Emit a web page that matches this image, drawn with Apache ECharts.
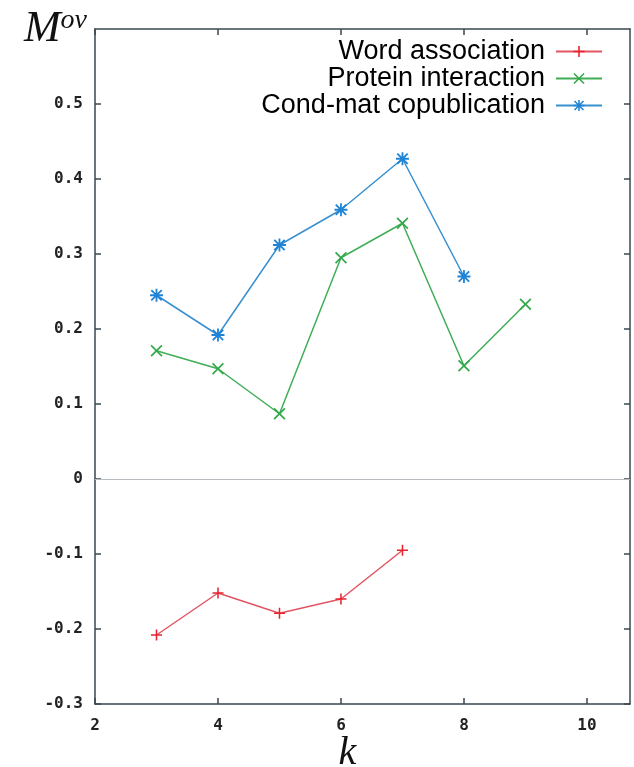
<!DOCTYPE html>
<html>
<head>
<meta charset="utf-8">
<script src="https://cdn.jsdelivr.net/npm/echarts@6/dist/echarts.min.js"></script>
<style>
  html, body { margin: 0; padding: 0; background: #fff; }
  #ovChart { width: 634px; height: 767px; }
</style>
</head>
<body>
<div id="ovChart"></div>
<script>
// k values and M^ov per network
var kWord = [3, 4, 5, 6, 7];
var wordAssoc = [-0.208, -0.152, -0.179, -0.160, -0.095];

var kProtein = [3, 4, 5, 6, 7, 8, 9];
var proteinInter = [0.171, 0.147, 0.087, 0.295, 0.341, 0.151, 0.233];

var kCondMat = [3, 4, 5, 6, 7, 8];
var condMat = [0.245, 0.192, 0.312, 0.359, 0.427, 0.270];

var xTicks = [2, 4, 6, 8, 10];
var yTicks = [-0.3, -0.2, -0.1, 0, 0.1, 0.2, 0.3, 0.4, 0.5];

// gnuplot style point markers (thin filled bars)
var plusPath = 'path://M4.3,0H5.7V10H4.3Z M0,4.3H10V5.7H0Z';
var crossPath = 'path://M0,1L1,0L10,9L9,10Z M9,0L10,1L1,10L0,9Z';
var starPath = 'path://M4.3,0H5.7V10H4.3Z M0,4.3H10V5.7H0Z M0.5,1.5L1.5,0.5L9.5,8.5L8.5,9.5Z M8.5,0.5L9.5,1.5L1.5,9.5L0.5,8.5Z';

function pairs(xs, ys) {
  return xs.map(function (x, i) { return [x, ys[i]]; });
}

var tickFont = {
  fontFamily: 'DejaVu Sans Mono',
  fontWeight: 'bold',
  fontSize: 16,
  color: '#222'
};
var axisLine = { show: true, onZero: false, lineStyle: { color: '#3a4750', width: 1.5 } };
var tickLine = { color: '#3a4750', width: 1.5 };

function initChart() {
  var chart = echarts.init(document.getElementById('ovChart'));
  var options = {
    animation: false,
    backgroundColor: '#fff',
    grid: { left: 95, right: 4, top: 29, bottom: 63, outerBoundsMode: 'none' },
    legend: {
      orient: 'vertical',
      align: 'right',
      right: 26,
      top: 33,
      itemWidth: 46,
      itemHeight: 14,
      itemGap: 0,
      textStyle: { fontFamily: 'Liberation Sans', fontSize: 27, color: '#000', padding: [0, 6, 0, 0] },
      data: ['Word association', 'Protein interaction', 'Cond-mat copublication']
    },
    xAxis: [
      {
        type: 'value',
        min: 2,
        max: 10.7,
        interval: 2,
        position: 'bottom',
        name: 'k',
        nameLocation: 'middle',
        nameMoveOverlap: false,
        nameGap: 29,
        nameTextStyle: { fontFamily: 'Liberation Serif', fontStyle: 'italic', fontSize: 40, color: '#111', padding: [0, 30, 0, 0] },
        axisLine: axisLine,
        axisTick: { show: true, inside: true, length: 6, lineStyle: tickLine, customValues: xTicks },
        axisLabel: Object.assign({ margin: 14, customValues: xTicks }, tickFont),
        splitLine: { show: false }
      },
      {
        type: 'value',
        min: 2,
        max: 10.7,
        interval: 2,
        position: 'top',
        axisLine: axisLine,
        axisTick: { show: true, inside: true, length: 6, lineStyle: tickLine, customValues: xTicks },
        axisLabel: { show: false },
        splitLine: { show: false }
      }
    ],
    yAxis: [
      {
        type: 'value',
        min: -0.3,
        max: 0.6,
        interval: 0.1,
        position: 'left',
        name: '{m|M}{s|ov}',
        nameLocation: 'end',
        nameGap: 0,
        nameTextStyle: {
          align: 'right',
          verticalAlign: 'middle',
          padding: [0, 8, 0, 0],
          rich: {
            m: { fontFamily: 'Liberation Serif', fontStyle: 'italic', fontSize: 44, color: '#111', verticalAlign: 'bottom' },
            s: { fontFamily: 'Liberation Serif', fontStyle: 'italic', fontSize: 28, color: '#111', verticalAlign: 'bottom', padding: [0, 0, 16, 0] }
          }
        },
        axisLine: axisLine,
        axisTick: { show: true, inside: true, length: 6, lineStyle: tickLine, customValues: yTicks },
        axisLabel: Object.assign({
          margin: 12,
          customValues: yTicks,
          formatter: function (v) {
            if (Math.abs(v) < 1e-9) return '0';
            return v.toFixed(1);
          }
        }, tickFont),
        splitLine: { show: false }
      },
      {
        type: 'value',
        min: -0.3,
        max: 0.6,
        interval: 0.1,
        position: 'right',
        axisLine: axisLine,
        axisTick: { show: true, inside: true, length: 6, lineStyle: tickLine, customValues: yTicks },
        axisLabel: { show: false },
        splitLine: { show: false }
      }
    ],
    series: [
      {
        name: 'Word association',
        type: 'line',
        data: pairs(kWord, wordAssoc),
        symbol: plusPath,
        symbolSize: 11,
        lineStyle: { color: '#e25563', width: 1.5 },
        itemStyle: { color: '#e8232d' },
        markLine: {
          silent: true,
          symbol: 'none',
          label: { show: false },
          lineStyle: { color: '#b8bcc0', width: 1.2, type: 'solid' },
          data: [{ yAxis: 0 }]
        }
      },
      {
        name: 'Protein interaction',
        type: 'line',
        data: pairs(kProtein, proteinInter),
        symbol: crossPath,
        symbolSize: 12,
        lineStyle: { color: '#3fae57', width: 1.5 },
        itemStyle: { color: '#33a84a' }
      },
      {
        name: 'Cond-mat copublication',
        type: 'line',
        data: pairs(kCondMat, condMat),
        symbol: starPath,
        symbolSize: 13,
        lineStyle: { color: '#3890d0', width: 1.5 },
        itemStyle: { color: '#1f84d6' }
      }
    ]
  };
  chart.setOption(options);
}

initChart();
</script>
</body>
</html>
